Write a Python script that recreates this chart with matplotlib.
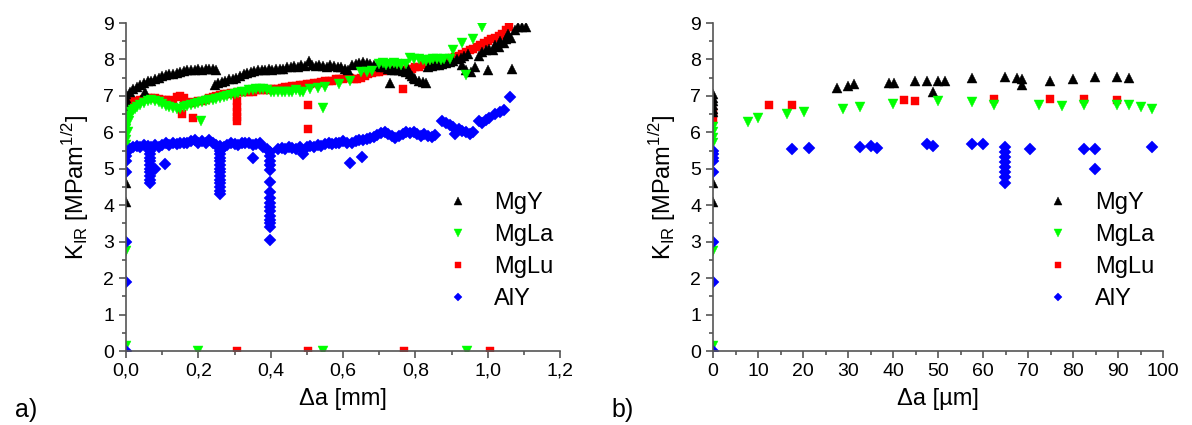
import numpy as np
import matplotlib.pyplot as plt
from matplotlib.ticker import MultipleLocator, FuncFormatter

plt.rcParams['font.family'] = ['Liberation Sans', 'DejaVu Sans']
plt.rcParams['mathtext.fontset'] = 'custom'
plt.rcParams['mathtext.rm'] = 'Liberation Sans'

# ---- data, panel a) : K_IR vs crack extension in mm ----
mgy_a = [(0, 4.1), (0, 4.6), (0, 6.55), (0, 6.65), (0, 6.75), (0, 6.85), (0, 6.95), (0, 7.05),
         (0.01, 7.1), (0.02, 7.2), (0.03, 7.25), (0.04, 7.3), (0.05, 7.35), (0.052, 7.1), (0.06, 7.4),
         (0.07, 7.42), (0.08, 7.45), (0.09, 7.5), (0.10, 7.55), (0.11, 7.57), (0.12, 7.6), (0.13, 7.6),
         (0.14, 7.62), (0.15, 7.65), (0.16, 7.68), (0.17, 7.7), (0.18, 7.72), (0.19, 7.72), (0.20, 7.74),
         (0.21, 7.72), (0.22, 7.75), (0.23, 7.73), (0.24, 7.75), (0.25, 7.7), (0.245, 7.3), (0.255, 7.35),
         (0.265, 7.38), (0.275, 7.42), (0.285, 7.45), (0.295, 7.47), (0.305, 7.5), (0.315, 7.55),
         (0.325, 7.6), (0.335, 7.62), (0.345, 7.65), (0.355, 7.68), (0.365, 7.72), (0.375, 7.7),
         (0.385, 7.72), (0.395, 7.75), (0.405, 7.72), (0.415, 7.75), (0.425, 7.73), (0.435, 7.75),
         (0.445, 7.78), (0.455, 7.8), (0.465, 7.82), (0.475, 7.8), (0.485, 7.85), (0.495, 7.82),
         (0.505, 7.95), (0.515, 7.85), (0.525, 7.82), (0.535, 7.84), (0.545, 7.82), (0.555, 7.8),
         (0.565, 7.85), (0.575, 7.82), (0.585, 7.8), (0.595, 7.78), (0.605, 7.75), (0.615, 7.7),
         (0.625, 7.85), (0.635, 7.88), (0.645, 7.9), (0.655, 7.92), (0.665, 7.9), (0.675, 7.88),
         (0.685, 7.85), (0.695, 7.82), (0.705, 7.8), (0.715, 7.78), (0.725, 7.75), (0.73, 7.35),
         (0.735, 7.72), (0.745, 7.7), (0.755, 7.7), (0.765, 7.68), (0.775, 7.65), (0.785, 7.6),
         (0.79, 7.55), (0.795, 7.5), (0.80, 7.45), (0.81, 7.42), (0.82, 7.38), (0.83, 7.35),
         (0.78, 7.75), (0.835, 7.8), (0.845, 7.82), (0.855, 7.85), (0.865, 7.85), (0.875, 7.88),
         (0.885, 7.9), (0.895, 7.92), (0.905, 7.95), (0.915, 8.0), (0.925, 8.05), (0.935, 8.1),
         (0.945, 8.15), (0.93, 7.85), (0.94, 7.7), (0.955, 7.65), (0.965, 7.8), (0.975, 8.1),
         (0.985, 8.2), (0.995, 8.25), (1.0, 7.7), (1.005, 8.3), (1.015, 8.25), (1.02, 8.4),
         (1.03, 8.35), (1.035, 8.5), (1.045, 8.45), (1.05, 8.55), (1.055, 8.7), (1.066, 7.75),
         (1.065, 8.6), (1.075, 8.8), (1.085, 8.9), (1.095, 8.9), (1.105, 8.9)]

mgla_a = [(0, 0.15), (0, 2.75), (0, 5.65), (0, 5.8), (0, 5.95), (0, 6.1), (0, 6.25), (0, 6.4),
          (0.005, 6.0), (0.008, 6.3), (0.01, 6.45), (0.015, 6.55), (0.02, 6.6), (0.025, 6.65),
          (0.03, 6.7), (0.04, 6.75), (0.05, 6.8), (0.06, 6.85), (0.07, 6.88), (0.08, 6.85),
          (0.09, 6.82), (0.10, 6.78), (0.11, 6.72), (0.12, 6.7), (0.13, 6.68), (0.14, 6.65),
          (0.15, 6.65), (0.16, 6.7), (0.17, 6.72), (0.18, 6.75), (0.19, 6.78), (0.20, 6.8),
          (0.206, 6.3), (0.21, 6.82), (0.22, 6.85), (0.23, 6.88), (0.24, 6.9), (0.25, 6.92),
          (0.26, 6.95), (0.27, 6.97), (0.28, 7.0), (0.29, 7.02), (0.30, 7.05), (0.31, 7.08),
          (0.32, 7.1), (0.33, 7.12), (0.34, 7.15), (0.35, 7.17), (0.36, 7.18), (0.37, 7.2),
          (0.38, 7.18), (0.39, 7.15), (0.40, 7.12), (0.41, 7.1), (0.42, 7.12), (0.43, 7.1),
          (0.44, 7.12), (0.45, 7.1), (0.46, 7.12), (0.47, 7.15), (0.48, 7.12), (0.49, 7.1),
          (0.51, 7.2), (0.53, 7.22), (0.546, 6.68), (0.55, 7.25), (0.59, 7.32), (0.62, 7.42),
          (0.65, 7.65), (0.665, 7.65), (0.68, 7.68), (0.70, 7.88), (0.71, 7.9), (0.72, 7.85),
          (0.73, 7.88), (0.74, 7.9), (0.75, 7.88), (0.76, 7.85), (0.775, 7.88), (0.785, 8.05),
          (0.795, 8.02), (0.81, 8.0), (0.82, 7.98), (0.83, 7.97), (0.84, 7.98), (0.85, 8.0),
          (0.86, 8.0), (0.87, 7.98), (0.88, 8.0), (0.895, 8.02), (0.905, 8.25), (0.93, 8.45),
          (0.94, 7.58), (0.96, 8.55), (0.983, 8.9),
          (0.2, 0), (0.545, 0), (0.942, 0)]

mglu_a = [(0, 6.4), (0, 6.55), (0, 6.7), (0.01, 6.8), (0.02, 6.85), (0.03, 6.8), (0.04, 6.9),
          (0.05, 6.92), (0.06, 6.95), (0.07, 6.93), (0.08, 6.95), (0.09, 6.92), (0.10, 6.9),
          (0.11, 6.9), (0.12, 6.88), (0.13, 6.85), (0.14, 6.97), (0.15, 7.0), (0.16, 6.95),
          (0.155, 6.5), (0.186, 6.38), (0.17, 6.82), (0.18, 6.8), (0.19, 6.82), (0.20, 6.85),
          (0.21, 6.85), (0.22, 6.9), (0.23, 6.95), (0.24, 6.98), (0.25, 7.0), (0.26, 7.02),
          (0.27, 7.05), (0.28, 7.05), (0.29, 7.07), (0.30, 7.05), (0.306, 6.85), (0.306, 6.7),
          (0.306, 6.55), (0.306, 6.42), (0.306, 6.3), (0.31, 7.1), (0.32, 7.1), (0.33, 7.12),
          (0.34, 7.1), (0.35, 7.12), (0.36, 7.15), (0.37, 7.15), (0.38, 7.17), (0.39, 7.15),
          (0.40, 7.18), (0.41, 7.2), (0.42, 7.2), (0.43, 7.22), (0.44, 7.25), (0.45, 7.25),
          (0.46, 7.27), (0.47, 7.28), (0.48, 7.3), (0.49, 7.3), (0.504, 6.75), (0.504, 6.1),
          (0.50, 7.32), (0.51, 7.33), (0.52, 7.35), (0.53, 7.36), (0.54, 7.38), (0.55, 7.4),
          (0.56, 7.42), (0.57, 7.42), (0.58, 7.45), (0.59, 7.45), (0.60, 7.45), (0.61, 7.48),
          (0.62, 7.48), (0.63, 7.45), (0.64, 7.45), (0.65, 7.5), (0.66, 7.55), (0.67, 7.6),
          (0.68, 7.62), (0.69, 7.65), (0.70, 7.65), (0.71, 7.68), (0.72, 7.7), (0.73, 7.7),
          (0.74, 7.7), (0.75, 7.7), (0.766, 7.2), (0.76, 7.72), (0.77, 7.72), (0.78, 7.75),
          (0.79, 7.75), (0.80, 7.78), (0.81, 7.8), (0.82, 7.85), (0.83, 7.88), (0.84, 7.9),
          (0.85, 7.92), (0.86, 7.95), (0.87, 7.97), (0.88, 8.0), (0.89, 8.02), (0.90, 8.05),
          (0.91, 8.07), (0.92, 8.1), (0.93, 8.15), (0.94, 8.2), (0.95, 8.25), (0.96, 8.3),
          (0.97, 8.35), (0.98, 8.4), (0.99, 8.45), (1.0, 8.5), (1.01, 8.55), (1.02, 8.6),
          (1.03, 8.65), (1.04, 8.7), (1.05, 8.8), (1.06, 8.9),
          (0.306, 0), (0.504, 0), (0.77, 0), (1.007, 0)]

aly_a = [(0, 0), (0, 1.9), (0, 3.0), (0, 4.9), (0, 5.2), (0, 5.35), (0, 5.5),
         (0.01, 5.55), (0.02, 5.6), (0.03, 5.62), (0.04, 5.6), (0.05, 5.65), (0.06, 5.62),
         (0.066, 5.5), (0.066, 5.4), (0.066, 5.3), (0.066, 5.2), (0.066, 5.1), (0.066, 5.0),
         (0.066, 4.9), (0.066, 4.8), (0.066, 4.7), (0.066, 4.6), (0.08, 5.0), (0.108, 5.12),
         (0.07, 5.6), (0.08, 5.65), (0.09, 5.6), (0.10, 5.65), (0.11, 5.7), (0.12, 5.65),
         (0.13, 5.7), (0.14, 5.68), (0.15, 5.7), (0.16, 5.72), (0.17, 5.7), (0.18, 5.75),
         (0.19, 5.78), (0.20, 5.72), (0.21, 5.75), (0.22, 5.7), (0.23, 5.78), (0.24, 5.72),
         (0.25, 5.65), (0.26, 5.62), (0.26, 5.5), (0.26, 5.4), (0.26, 5.3), (0.26, 5.2),
         (0.26, 5.1), (0.26, 5.0), (0.26, 4.9), (0.26, 4.8), (0.26, 4.7), (0.26, 4.6),
         (0.26, 4.5), (0.26, 4.4), (0.26, 4.3), (0.27, 5.6), (0.28, 5.65), (0.29, 5.7),
         (0.30, 5.68), (0.31, 5.65), (0.32, 5.7), (0.33, 5.72), (0.34, 5.7), (0.35, 5.65),
         (0.352, 5.3), (0.36, 5.68), (0.37, 5.7), (0.38, 5.6), (0.39, 5.55), (0.397, 5.45),
         (0.397, 5.35), (0.397, 5.22), (0.397, 5.1), (0.397, 4.97), (0.397, 4.65), (0.397, 4.35),
         (0.397, 4.2), (0.397, 4.05), (0.397, 3.95), (0.397, 3.85), (0.397, 3.7), (0.397, 3.6),
         (0.397, 3.5), (0.397, 3.4), (0.397, 3.05),
         (0.42, 5.55), (0.43, 5.58), (0.44, 5.55), (0.45, 5.6), (0.46, 5.57), (0.47, 5.55),
         (0.48, 5.6), (0.49, 5.4), (0.50, 5.6), (0.51, 5.62), (0.52, 5.6), (0.53, 5.65),
         (0.54, 5.62), (0.55, 5.68), (0.56, 5.7), (0.57, 5.68), (0.58, 5.72), (0.59, 5.7),
         (0.60, 5.75), (0.61, 5.72), (0.62, 5.15), (0.625, 5.7), (0.635, 5.75), (0.645, 5.8),
         (0.652, 5.33), (0.655, 5.78), (0.665, 5.82), (0.675, 5.85), (0.685, 5.88), (0.695, 5.92),
         (0.705, 5.98), (0.715, 6.02), (0.725, 5.95), (0.735, 5.9), (0.745, 5.85), (0.755, 5.9),
         (0.765, 5.95), (0.775, 6.0), (0.785, 5.97), (0.795, 6.0), (0.805, 5.95), (0.815, 5.9),
         (0.825, 5.95), (0.835, 5.9), (0.845, 5.88), (0.855, 5.92), (0.875, 6.3), (0.885, 6.25),
         (0.895, 6.2), (0.905, 6.15), (0.91, 5.95), (0.92, 6.1), (0.93, 6.05), (0.94, 6.0),
         (0.95, 5.95), (0.96, 6.0), (0.975, 6.3), (0.985, 6.25), (0.995, 6.35), (1.005, 6.4),
         (1.02, 6.5), (1.035, 6.55), (1.045, 6.6), (1.063, 6.98)]

# ---- data, panel b) : K_IR vs crack extension in um ----
mgy_b = [(0, 4.1), (0, 4.6), (0, 6.55), (0, 6.65), (0, 6.75), (0, 6.85), (0, 6.95), (0, 7.05),
         (27.5, 7.22), (30.1, 7.26), (31.3, 7.33), (39.0, 7.35), (40.2, 7.35), (44.9, 7.42),
         (47.5, 7.42), (48.8, 7.12), (50.1, 7.4), (51.5, 7.4), (57.5, 7.48), (64.9, 7.51),
         (67.5, 7.48), (68.6, 7.45), (68.6, 7.31), (74.9, 7.4), (79.9, 7.47), (84.9, 7.51),
         (89.7, 7.53), (92.5, 7.5)]
mgla_b = [(0, 0.15), (0, 2.75), (0, 5.7), (0, 5.85), (0, 6.0), (0, 6.15),
          (7.7, 6.28), (10.1, 6.4), (16.4, 6.51), (20.2, 6.56), (28.8, 6.65), (32.7, 6.7),
          (40.1, 6.77), (50.1, 6.86), (57.5, 6.83), (62.4, 6.76), (72.5, 6.76), (77.5, 6.71),
          (82.4, 6.74), (89.7, 6.76), (92.5, 6.74), (95.0, 6.7), (97.5, 6.65)]
mglu_b = [(0, 6.4), (0, 6.55), (12.5, 6.74), (17.6, 6.74), (42.4, 6.9), (44.9, 6.85),
          (62.4, 6.92), (74.9, 6.92), (82.4, 6.92), (89.7, 6.9)]
aly_b = [(0, 0), (0, 1.9), (0, 3.0), (0, 4.9), (0, 5.2), (0, 5.3), (0, 5.4), (0, 5.5),
         (17.6, 5.53), (21.4, 5.58), (32.7, 5.6), (35.0, 5.62), (36.4, 5.58), (47.6, 5.67),
         (48.8, 5.62), (57.5, 5.67), (60.1, 5.67), (64.9, 5.6), (64.9, 5.46), (64.9, 5.32),
         (64.9, 5.19), (64.9, 5.05), (64.9, 4.92), (64.9, 4.78), (64.9, 4.61), (70.5, 5.53),
         (82.4, 5.55), (84.9, 5.55), (84.9, 4.99), (97.5, 5.6)]

names = ['MgY', 'MgLa', 'MgLu', 'AlY']
colors = ['black', '#00ff00', '#ff0000', '#0000ff']
markers = ['^', 'v', 's', 'D']
sizes = [7.5, 7.5, 6, 6]

fig = plt.figure(figsize=(11.92, 4.25), dpi=100)
ax1 = fig.add_axes([126 / 1192, 74 / 425, 434 / 1192, 328 / 425])
ax2 = fig.add_axes([713 / 1192, 74 / 425, 450 / 1192, 328 / 425])

spine_col = '#555555'


def draw_panel(ax, series, leg_x):
    handles = {}
    # drawing order: red under black under green, blue separate
    for i in [2, 0, 1, 3]:
        xy = np.array(series[i]).T
        h, = ax.plot(xy[0], xy[1], linestyle='none', marker=markers[i], ms=sizes[i],
                     color=colors[i], mec=colors[i], mew=0.3, label=names[i])
        handles[i] = h
    ax.set_ylim(0, 9)
    ax.yaxis.set_major_locator(MultipleLocator(1))
    ax.yaxis.set_minor_locator(MultipleLocator(0.5))
    for s in ['top', 'right']:
        ax.spines[s].set_visible(False)
    for s in ['left', 'bottom']:
        ax.spines[s].set_color(spine_col)
        ax.spines[s].set_linewidth(1.2)
    ax.tick_params(which='both', direction='out', color=spine_col, width=1.2, labelsize=14)
    ax.tick_params(which='major', length=5)
    ax.tick_params(which='minor', length=3)
    ax.set_ylabel(r'K$_{\mathregular{IR}}$ [MPam$^{\mathregular{1/2}}$]', fontsize=17, labelpad=9)
    ax.legend([handles[i] for i in range(4)], names, loc='upper left',
              bbox_to_anchor=(leg_x, 0.52), frameon=False, fontsize=17,
              handlelength=1.0, handletextpad=1.05, labelspacing=0.42, borderpad=0,
              markerscale=0.75)


draw_panel(ax1, [mgy_a, mgla_a, mglu_a, aly_a], 0.71)
ax1.set_xlim(0, 1.2)
ax1.xaxis.set_major_locator(MultipleLocator(0.2))
ax1.xaxis.set_minor_locator(MultipleLocator(0.1))
ax1.xaxis.set_major_formatter(FuncFormatter(lambda v, p: f'{v:.1f}'.replace('.', ',')))
ax1.set_xlabel('Δa [mm]', fontsize=17, labelpad=6)

draw_panel(ax2, [mgy_b, mgla_b, mglu_b, aly_b], 0.715)
ax2.set_xlim(0, 100)
ax2.xaxis.set_major_locator(MultipleLocator(10))
ax2.xaxis.set_minor_locator(MultipleLocator(5))
ax2.set_xlabel('Δa [µm]', fontsize=17, labelpad=6)

fig.text(15 / 1192, 1 - 410 / 425, 'a)', fontsize=18, va='center')
fig.text(611 / 1192, 1 - 410 / 425, 'b)', fontsize=18, va='center')

fig.savefig('out.png', dpi=100)
